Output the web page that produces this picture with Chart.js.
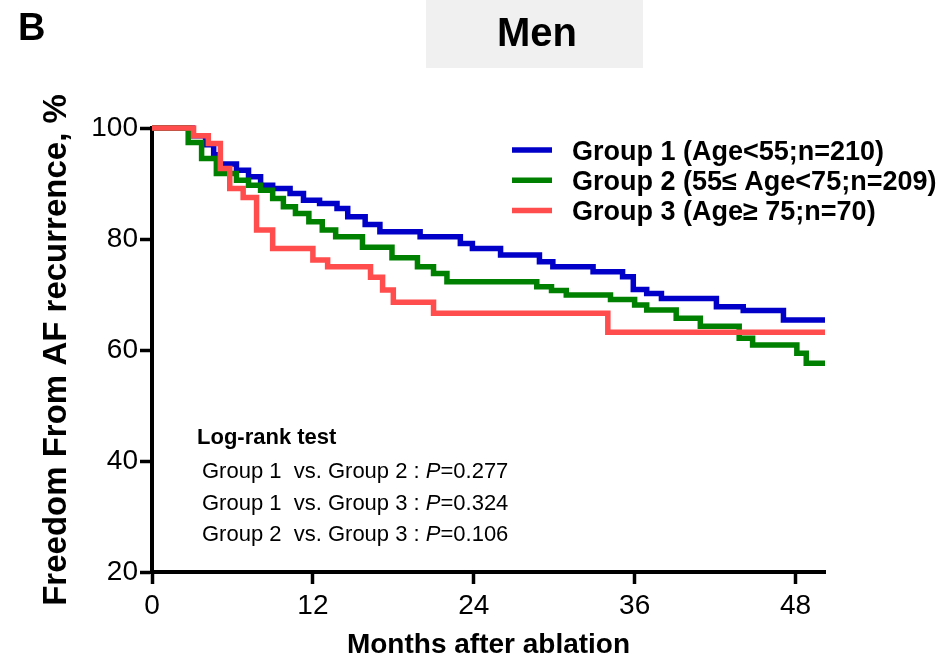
<!DOCTYPE html>
<html>
<head>
<meta charset="utf-8">
<title>Men - Freedom from AF recurrence</title>
<script src="https://cdn.jsdelivr.net/npm/chart.js@4.4.0/dist/chart.umd.min.js"></script>
<style>
  html, body { margin: 0; padding: 0; background: #fff; }
  #myChart { display: block; }
</style>
</head>
<body>
<canvas id="myChart" width="947" height="663"></canvas>
<script>
// Kaplan-Meier steps: month of each drop and % free after it
let g1Months = [0, 3.0, 4.0, 4.6, 5.0, 6.3, 7.2, 8.1, 9.0, 10.3, 11.3, 12.5, 13.8, 14.6, 15.9, 17.0, 20.0, 23.0, 23.9, 26.0, 28.9, 29.9, 32.9, 35.1, 35.9, 36.9, 38.0, 42.1, 44.1, 47.1, 50.2]
let g1Surv   = [100, 98.6, 97.0, 95.2, 93.5, 92.4, 91.2, 89.7, 89.1, 88.2, 87.0, 86.4, 85.5, 84.0, 82.6, 81.3, 80.4, 79.2, 78.3, 77.1, 75.9, 75.0, 74.1, 73.2, 70.9, 70.2, 69.3, 67.8, 67.1, 65.4, 65.4]

let g2Months = [0, 2.7, 3.7, 4.8, 6.3, 7.2, 8.1, 9.0, 9.8, 10.7, 11.7, 12.7, 13.7, 15.7, 17.9, 19.8, 21.0, 22.0, 28.7, 29.8, 30.9, 34.2, 36.0, 36.9, 39.1, 40.9, 43.8, 44.8, 48.1, 48.8, 50.2]
let g2Surv   = [100, 97.4, 94.5, 91.8, 90.6, 89.7, 88.8, 87.3, 85.8, 84.6, 83.1, 81.6, 80.4, 78.5, 76.6, 75.0, 73.8, 72.3, 71.4, 70.7, 69.9, 69.1, 68.1, 67.2, 65.7, 64.3, 62.1, 60.9, 59.4, 57.6, 57.6]

let g3Months = [0, 3.1, 4.2, 5.1, 5.8, 6.8, 7.8, 9.0, 12.0, 13.1, 16.3, 17.2, 18.0, 21.0, 34.0, 50.2]
let g3Surv   = [100, 98.6, 97.2, 92.7, 89.1, 87.5, 81.6, 78.3, 76.2, 75.0, 73.1, 70.8, 68.6, 66.6, 63.2, 63.2]

let groupLabels = ['Group 1 (Age<55;n=210)', 'Group 2 (55\u2264 Age<75;n=209)', 'Group 3 (Age\u2265 75;n=70)']
let groupColors = ['#0000c8', '#008000', '#ff4d4d']

let xTicks = [0, 12, 24, 36, 48]
let yTicks = [20, 40, 60, 80, 100]

let panelLetter = 'B'
let panelTitle = 'Men'
let logRankTitle = 'Log-rank test'
let logRankPairs = ['Group 1  vs. Group 2 : ', 'Group 1  vs. Group 3 : ', 'Group 2  vs. Group 3 : ']
let logRankP = ['0.277', '0.324', '0.106']

const FONT = "'Liberation Sans', Arial, Helvetica, sans-serif"

function steps(months, surv) {
  return months.map((m, i) => ({x: m, y: surv[i]}))
}

// panel letter, grey title box, legend and the log-rank text
const decorations = {
  id: 'decorations',
  beforeDraw(chart) {
    let c = chart.ctx
    c.save()
    c.fillStyle = '#f0f0f0'
    c.fillRect(426, 0, 217, 68)
    c.fillStyle = '#000'
    c.textBaseline = 'alphabetic'
    c.textAlign = 'left'
    c.font = 'bold 38px ' + FONT
    c.fillText(panelLetter, 18, 40)
    c.textAlign = 'center'
    c.font = 'bold 40px ' + FONT
    c.fillText(panelTitle, 537, 46)
    c.restore()
  },
  afterDraw(chart) {
    let c = chart.ctx
    c.save()
    c.textBaseline = 'alphabetic'
    c.textAlign = 'left'
    // legend
    groupLabels.forEach((txt, i) => {
      let base = 159.5 + i * 30.3
      c.strokeStyle = groupColors[i]
      c.lineWidth = 5.5
      c.beginPath()
      c.moveTo(512, base - 9.5)
      c.lineTo(552, base - 9.5)
      c.stroke()
      c.fillStyle = '#000'
      c.font = 'bold 27px ' + FONT
      c.fillText(txt, 572, base)
    })
    // log-rank block
    c.fillStyle = '#000'
    c.font = 'bold 22px ' + FONT
    c.fillText(logRankTitle, 197, 444)
    logRankPairs.forEach((txt, i) => {
      let base = 478.3 + i * 31.2
      let x = 202
      c.font = '22px ' + FONT
      c.fillText(txt, x, base)
      x += c.measureText(txt).width
      c.font = 'italic 22px ' + FONT
      c.fillText('P', x, base)
      x += c.measureText('P').width
      c.font = '22px ' + FONT
      c.fillText('=' + logRankP[i], x, base)
    })
    c.restore()
  }
}

let myChart = new Chart(ctx = document.getElementById('myChart').getContext('2d'), {
  type: 'line',
  data: {
    datasets: [
      {label: groupLabels[0], data: steps(g1Months, g1Surv), borderColor: groupColors[0], order: 2},
      {label: groupLabels[1], data: steps(g2Months, g2Surv), borderColor: groupColors[1], order: 1},
      {label: groupLabels[2], data: steps(g3Months, g3Surv), borderColor: groupColors[2], order: 0}
    ]
  },
  options: {
    responsive: false,
    animation: false,
    clip: false,
    datasets: {
      line: {
        stepped: 'before',
        borderWidth: 5.5,
        pointRadius: 0,
        fill: false,
        borderCapStyle: 'butt',
        borderJoinStyle: 'miter'
      }
    },
    layout: {padding: {top: 128, right: 122, left: 0, bottom: 0}},
    plugins: {
      legend: {display: false},
      tooltip: {enabled: false}
    },
    scales: {
      x: {
        type: 'linear',
        min: 0,
        max: 50.2,
        afterBuildTicks: s => { s.ticks = xTicks.map(v => ({value: v})) },
        afterFit: s => { s.height = 91 },
        border: {display: true, color: '#000', width: 4},
        grid: {drawOnChartArea: false, drawTicks: true, tickLength: 12, tickWidth: 3.5, tickColor: '#000'},
        ticks: {color: '#000', padding: 5, maxRotation: 0, font: {family: FONT, size: 28}},
        title: {display: true, text: 'Months after ablation', color: '#000', padding: {top: 0, bottom: 1}, font: {family: FONT, size: 28, weight: 'bold'}}
      },
      y: {
        min: 20,
        max: 100,
        afterBuildTicks: s => { s.ticks = yTicks.map(v => ({value: v})) },
        afterFit: s => { s.width = 152 },
        border: {display: true, color: '#000', width: 4},
        grid: {drawOnChartArea: false, drawTicks: true, tickLength: 12, tickWidth: 3.5, tickColor: '#000'},
        ticks: {color: '#000', padding: 2, font: {family: FONT, size: 28}},
        title: {display: true, text: 'Freedom From AF recurrence, %', color: '#000', padding: {top: 37, bottom: 0}, font: {family: FONT, size: 33, weight: 'bold'}}
      }
    }
  },
  plugins: [decorations]
})
</script>
</body>
</html>
